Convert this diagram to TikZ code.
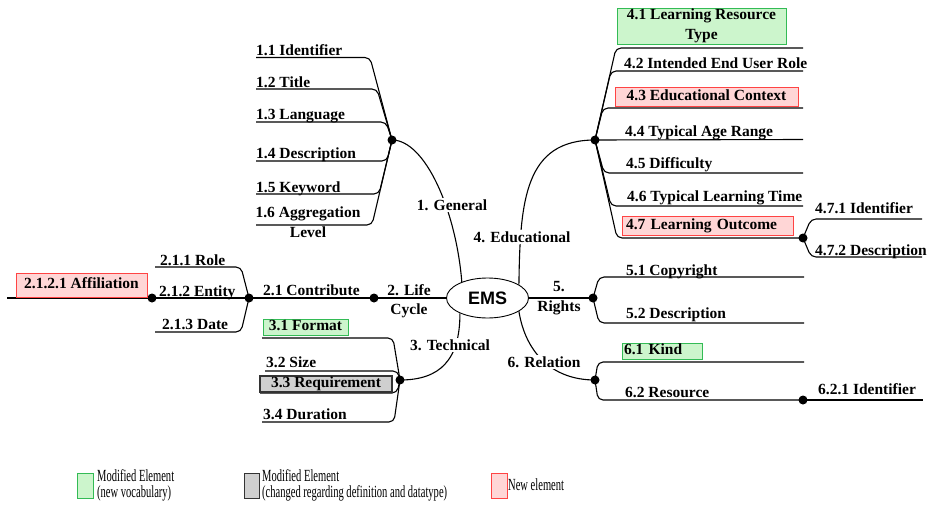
\documentclass[tikz,border=0pt]{standalone}
\usepackage{fontspec}
\setmainfont{Liberation Serif}
\newfontfamily\emsfont{Liberation Sans}
\newfontfamily\legendfont[FakeStretch=0.62]{Liberation Serif}
\usetikzlibrary{shapes.geometric}
\definecolor{greenfill}{HTML}{CCF5CC}
\definecolor{greenline}{HTML}{33BB55}
\definecolor{redfill}{HTML}{FFD6D6}
\definecolor{redline}{HTML}{FF4444}
\definecolor{grayfill}{HTML}{CFCFCF}
\definecolor{grayline}{HTML}{333333}
\newcommand{\lblfont}{\bfseries\fontsize{15.5}{19.5}\selectfont}
\begin{document}
\begin{tikzpicture}[x=1pt,y=-1pt,
  lbl/.style={font=\lblfont, inner sep=0pt, anchor=base west},
  branchname/.style={font=\lblfont, inner sep=1.5pt, align=center, fill=white},
  stacked/.style={font=\lblfont, inner sep=0pt, align=center},
  tagbox/.style={font=\lblfont, inner xsep=3pt, inner ysep=0pt, line width=0.8pt, align=center},
  oneline/.style={text height=10.5pt, text depth=3.5pt},
  vocab/.style={tagbox, draw=greenline, fill=greenfill},
  newel/.style={tagbox, draw=redline, fill=redfill},
  redef/.style={tagbox, draw=grayline, fill=grayfill, line width=1.2pt},
  hub/.style={circle, fill=black, inner sep=0pt, minimum size=9pt},
  link/.style={line width=1.1pt, rounded corners=5pt},
  curve/.style={line width=1.1pt},
  legtext/.style={font=\legendfont\fontsize{17}{17}\selectfont, inner sep=0pt, anchor=base west},
  legbox/.style={line width=0.8pt, minimum width=16pt, minimum height=25pt, inner sep=0pt}
]
\useasboundingbox (0,0) rectangle (929,506);

% central element
\node[ellipse, draw, line width=0.9pt, fill=white, minimum width=82pt, minimum height=40pt,
      inner sep=0pt, font=\emsfont\bfseries\fontsize{18}{20}\selectfont] (ems) at (487.5,298) {EMS};

% branching points
\node[hub] (d1)   at (392,140) {};
\node[hub] (d2)   at (374,298) {};
\node[hub] (d21)  at (249,298) {};
\node[hub] (d212) at (152,298) {};
\node[hub] (d3)   at (400,380) {};
\node[hub] (d4)   at (595,140) {};
\node[hub] (d47)  at (803,238) {};
\node[hub] (d5)   at (593,298) {};
\node[hub] (d6)   at (595,380) {};
\node[hub] (d62)  at (803,400) {};

% free ends of the leaf lines
\coordinate (e11) at (256,57.5);
\coordinate (e12) at (256,89);
\coordinate (e13) at (256,122);
\coordinate (e14) at (256,161);
\coordinate (e15) at (256,194);
\coordinate (e16) at (256,225);
\coordinate (e2)  at (7,298);
\coordinate (e211) at (155,267);
\coordinate (e213) at (155,332);
\coordinate (e31) at (262,338);
\coordinate (e32) at (265,371);
\coordinate (e33) at (260,393);
\coordinate (e34) at (262,422);
\coordinate (e41) at (803,48);
\coordinate (e42) at (803,71);
\coordinate (e43) at (803,108);
\coordinate (e44) at (803,139.5);
\coordinate (e45) at (803,173);
\coordinate (e46) at (803,206);
\coordinate (e471) at (922,219);
\coordinate (e472) at (922,257);
\coordinate (e51) at (804,277);
\coordinate (e52) at (804,323);
\coordinate (e61) at (804,362);
\coordinate (e621) at (923,400);

% main branches
\draw[curve] (ems.148) .. controls (456,210) and (425,140) .. (d1.center);
\draw[curve] (ems.23) .. controls (520,200) and (525,140) .. (d4.center);
\draw[curve] (ems.209) .. controls (460,360) and (440,380) .. (d3.center);
\draw[curve] (ems.-23) .. controls (525,350) and (550,380) .. (d6.center);
\draw[curve] (ems.west) -- (e2);
\draw[curve] (ems.east) -- (d5.center);

% 1. General
\draw[link] (d1.center) -- (370,57.5) -- (e11);
\draw[link] (d1.center) -- (377,89) -- (e12);
\draw[link] (d1.center) -- (386,122) -- (e13);
\draw[link] (d1.center) -- (387,161) -- (e14);
\draw[link] (d1.center) -- (379,194) -- (e15);
\draw[link] (d1.center) -- (372,225) -- (e16);

% 2.1 Contribute
\draw[link] (d21.center) -- (241,267) -- (e211);
\draw[link] (d21.center) -- (241,332) -- (e213);

% 3. Technical
\draw[link] (d3.center) -- (393,338) -- (e31);
\draw[link] (d3.center) -- (398,371) -- (e32);
\draw[link] (d3.center) -- (397,393) -- (e33);
\draw[link] (d3.center) -- (394,422) -- (e34);

% 4. Educational
\draw[link] (d4.center) -- (616,48) -- (e41);
\draw[link] (d4.center) -- (611,71) -- (e42);
\draw[link] (d4.center) -- (603,108) -- (e43);
\draw[link] (d4.center) -- (e44);
\draw[link] (d4.center) -- (604,173) -- (e45);
\draw[link] (d4.center) -- (611,206) -- (e46);
\draw[link] (d4.center) -- (617,238) -- (d47.center);
\draw[link] (d47.center) -- (811,219) -- (e471);
\draw[link] (d47.center) -- (811,257) -- (e472);

% 5. Rights
\draw[link] (d5.center) -- (599,277) -- (e51);
\draw[link] (d5.center) -- (599,323) -- (e52);

% 6. Relation
\draw[link] (d6.center) -- (598,362) -- (e61);
\draw[link] (d6.center) -- (598,400) -- (d62.center);
\draw[link] (d62.center) -- (e621);

% branch names
\node[branchname] (gen)  at (452,205) {1. General};
\node[branchname] (edu)  at (522,237) {4. Educational};
\node[branchname] (tech) at (450,345) {3. Technical};
\node[branchname] (rel)  at (544,362) {6. Relation};
\node[stacked] (lc)  at (409,301) {2. Life\\Cycle};
\node[stacked] (rig) at (559,298) {5.\\Rights};
\node[lbl] (contrib) at (263,295) {2.1 Contribute};

% leaf labels
\node[lbl] (l11) at (256,55) {1.1 Identifier};
\node[lbl] (l12) at (256,87) {1.2 Title};
\node[lbl] (l13) at (256,119) {1.3 Language};
\node[lbl] (l14) at (256,158) {1.4 Description};
\node[lbl] (l15) at (256,192) {1.5 Keyword};
\node[stacked] (l16) at (308,222) {1.6 Aggregation\\Level};
\node[lbl] (l211) at (160,265) {2.1.1 Role};
\node[lbl] (l212) at (159,296) {2.1.2 Entity};
\node[lbl] (l213) at (162,329) {2.1.3 Date};
\node[lbl] (l32) at (266,367) {3.2 Size};
\node[lbl] (l34) at (263,419) {3.4 Duration};
\node[lbl] (l42) at (624,68) {4.2 Intended End User Role};
\node[lbl] (l44) at (625,136) {4.4 Typical Age Range};
\node[lbl] (l45) at (626,168) {4.5 Difficulty};
\node[lbl] (l46) at (627,201) {4.6 Typical Learning Time};
\node[lbl] (l471) at (815,213) {4.7.1 Identifier};
\node[lbl] (l472) at (815,255) {4.7.2 Description};
\node[lbl] (l51) at (626,275) {5.1 Copyright};
\node[lbl] (l52) at (626,318) {5.2 Description};
\node[lbl] (l62) at (625,397) {6.2 Resource};
\node[lbl] (l621) at (818,394) {6.2.1 Identifier};

% highlighted elements
\node[vocab, minimum width=169pt, minimum height=36pt] (b41) at (701.5,26) {4.1 Learning Resource\\Type};
\node[newel, oneline, minimum width=183pt, minimum height=19pt] (b43) at (706.5,96.5) {4.3 Educational Context};
\node[newel, oneline, inner xsep=4pt, text width=163pt, align=left, minimum height=19pt] (b47) at (707.5,225.5) {4.7 Learning Outcome};
\node[vocab, oneline, inner xsep=2pt, text width=76pt, align=left, minimum height=16pt] (b61) at (662,351) {6.1 Kind};
\node[vocab, oneline, minimum width=85pt, minimum height=16pt] (b31) at (305.5,327) {3.1 Format};
\node[redef, oneline, minimum width=132pt, minimum height=16pt] (b33) at (326,384) {3.3 Requirement};
\node[newel, oneline, minimum width=131pt, minimum height=24pt] (b2121) at (81.5,285) {2.1.2.1 Affiliation};

% legend
\node[legbox, draw=greenline, fill=greenfill] (kv) at (85.5,485.5) {};
\node[legbox, draw=grayline, fill=grayfill, minimum width=15pt] (kd) at (251.5,485.5) {};
\node[legbox, draw=redline, fill=redfill] (kn) at (499,485.5) {};
\node[legtext] (tv1) at (97,481) {Modified Element};
\node[legtext] (tv2) at (97,497) {(new vocabulary)};
\node[legtext] (td1) at (262,481) {Modified Element};
\node[legtext] (td2) at (262,497) {(changed regarding definition and datatype)};
\node[legtext] (tn) at (508,490) {New element};
\end{tikzpicture}
\end{document}
